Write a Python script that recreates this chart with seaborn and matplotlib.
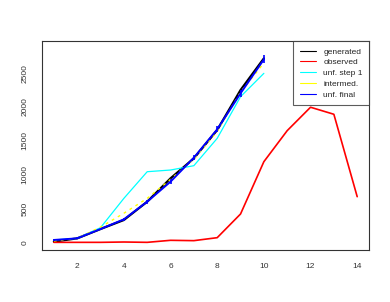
import numpy as np
import pandas as pd
import matplotlib
matplotlib.use("Agg")
import matplotlib.pyplot as plt
import seaborn as sns

# ===== data =====
bins = [1, 2, 3, 4, 5, 6, 7, 8, 9, 10]
bins_obs = [1, 2, 3, 4, 5, 6, 7, 8, 9, 10, 11, 12, 13, 14]
generated = [10, 59, 197, 330, 601, 946, 1241, 1660, 2251, 2719]
observed = [0, 0, 0, 5, 0, 30, 25, 69, 419, 1192, 1651, 1997, 1893, 675]
unf_step1 = [35, 59, 217, 650, 1044, 1069, 1133, 1537, 2153, 2498]
intermed = [20, 59, 225, 430, 650, 930, 1230, 1640, 2220, 2650]
unf_final = [35, 59, 197, 340, 601, 897, 1251, 1670, 2202, 2704]
unf_err = [12, 15, 20, 25, 30, 35, 40, 45, 50, 60]

xticks = [2, 4, 6, 8, 10, 12, 14]
yticks = [0, 500, 1000, 1500, 2000, 2500]

sns.set_style("white")
plt.rcParams['font.family'] = ['Liberation Sans', 'DejaVu Sans']

fig = plt.figure(figsize=(3.9, 3.02), dpi=100)
ax = fig.add_axes([0.107, 0.172, 0.84, 0.692])

sns.lineplot(x=bins, y=generated, color='black', lw=1.6, ax=ax, label='generated',
             estimator=None, sort=False)
sns.lineplot(x=bins_obs, y=observed, color='red', lw=1.2, ax=ax, label='observed',
             estimator=None, sort=False)
sns.lineplot(x=bins, y=unf_step1, color='cyan', lw=0.9, ax=ax, label='unf. step 1',
             estimator=None, sort=False)
sns.lineplot(x=bins, y=intermed, color='yellow', lw=1.0, ax=ax, label='intermed.',
             estimator=None, sort=False, linestyle=(0, (2, 3)))
sns.lineplot(x=bins, y=unf_final, color='blue', lw=1.4, ax=ax, label='unf. final',
             estimator=None, sort=False)
ax.errorbar(bins, unf_final, yerr=unf_err, fmt='none', ecolor='blue', elinewidth=1.2,
            capsize=0)

ax.set_xlim(0.48, 14.52)
ax.set_ylim(-114, 2975)
ax.set_xticks(xticks)
ax.set_yticks(yticks)
ax.set_xticklabels([str(t) for t in xticks])
ax.set_yticklabels([str(t) for t in yticks], rotation=90, va='center')
ax.tick_params(axis='both', direction='out', length=3.8, width=0.8, colors='#333333',
               labelsize=6)
ax.tick_params(axis='x', pad=5.5)
ax.tick_params(axis='y', pad=5.5)
for s in ax.spines.values():
    s.set_color('#333333')
    s.set_linewidth(0.8)

handles, labels = ax.get_legend_handles_labels()
leg = ax.legend(handles[:5], labels[:5], loc='upper right', fontsize=6, frameon=True,
                fancybox=False, borderaxespad=0, handlelength=2.0, handletextpad=0.8,
                labelspacing=0.35, borderpad=0.8)
leg.get_frame().set_edgecolor('#333333')
leg.get_frame().set_linewidth(0.8)
for ln in leg.get_lines():
    ln.set_linewidth(0.8)
    ln.set_linestyle('-')

fig.savefig("out.png", dpi=100)
